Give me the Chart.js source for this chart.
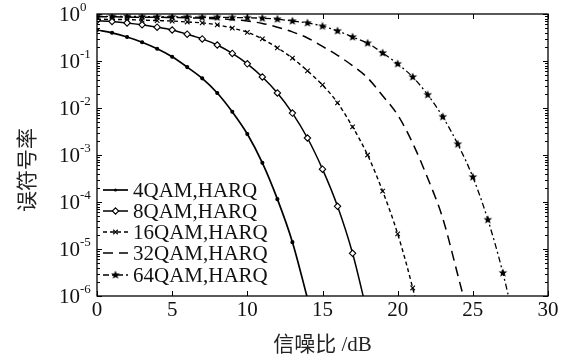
<!DOCTYPE html>
<html>
<head>
<meta charset="utf-8">
<script src="https://cdn.jsdelivr.net/npm/chart.js@4.4.1/dist/chart.umd.min.js"></script>
<style>
  html, body { margin: 0; padding: 0; background: #fff; }
</style>
</head>
<body>
<canvas id="chart" width="575" height="361"></canvas>
<script>
// ---- данные (читаются с рисунка) ----
const snr = [0,1,2,3,4,5,6,7,8,9,10,11,12,13,14,15,16,17,18,19,20,21,22,23,24,25,26,27,28];

const ser4 = [0.457,0.398,0.324,0.251,0.182,0.123,0.0741,0.0427,0.0209,8.3e-3,2.8e-3,6.8e-4,1.15e-4,1.4e-5,8.9e-7];
const ser8 = [0.724,0.692,0.646,0.589,0.525,0.457,0.372,0.295,0.219,0.145,0.0871,0.0457,0.0209,7.8e-3,2.3e-3,5.0e-4,8.1e-5,8.1e-6,4.0e-7];
const ser16 = [0.776,0.767,0.759,0.741,0.724,0.708,0.676,0.646,0.589,0.501,0.407,0.295,0.191,0.115,0.0617,0.0309,0.0129,3.98e-3,1.0e-3,1.7e-4,2.1e-5,1.48e-6,6.3e-8];
const ser32 = [0.871,0.871,0.861,0.851,0.851,0.841,0.832,0.813,0.794,0.759,0.708,0.631,0.525,0.417,0.309,0.204,0.132,0.0794,0.0437,0.0182,7.1e-3,1.78e-3,3.2e-4,4.5e-5,2.8e-6,1.6e-7];
const ser64 = [0.891,0.891,0.891,0.881,0.871,0.871,0.861,0.851,0.851,0.841,0.832,0.813,0.776,0.708,0.646,0.550,0.437,0.324,0.240,0.148,0.0871,0.0457,0.0191,6.5e-3,1.7e-3,3.4e-4,4.2e-5,3.1e-6,1.26e-7];

const seriesNames = ['4QAM,HARQ', '8QAM,HARQ', '16QAM,HARQ', '32QAM,HARQ', '64QAM,HARQ'];

const xTicks = [0, 5, 10, 15, 20, 25, 30];
const yTickValues = [1, 1e-1, 1e-2, 1e-3, 1e-4, 1e-5, 1e-6];
const yTickExps = ['0', '-1', '-2', '-3', '-4', '-5', '-6'];

const FONT = '"Liberation Serif", "Noto Sans CJK SC", serif';

// звёздочка для 64QAM
function makeStar(R, r) {
  const c = document.createElement('canvas');
  const s = Math.ceil(R * 2) + 2;
  c.width = s; c.height = s;
  const g = c.getContext('2d');
  g.beginPath();
  for (let i = 0; i < 10; i++) {
    const rad = i % 2 ? r : R;
    const a = -Math.PI / 2 + i * Math.PI / 5;
    g.lineTo(s / 2 + rad * Math.cos(a), s / 2 + rad * Math.sin(a));
  }
  g.closePath();
  g.fillStyle = '#000';
  g.fill();
  return c;
}
const star = makeStar(4.6, 2.0);

function pts(vals) { return vals.map((v, i) => ({ x: snr[i], y: v })); }

const styles = [
  { dash: [],          width: 1.7, point: 'circle',   radius: 1.5, bg: '#000' },
  { dash: [],          width: 1.5, point: 'rectRot',  radius: 3.2, bg: '#fff' },
  { dash: [4, 3],      width: 1.4, point: 'crossRot', radius: 3.2, bg: '#000' },
  { dash: [10, 6],     width: 1.5, point: false,      radius: 0,   bg: '#000' },
  { dash: [6, 3, 2, 3], width: 1.3, point: star,      radius: 4.6, bg: '#000' },
];

const allSeries = [ser4, ser8, ser16, ser32, ser64];

const datasets = allSeries.map((vals, i) => ({
  label: seriesNames[i],
  data: pts(vals),
  borderColor: '#000',
  backgroundColor: styles[i].bg,
  borderWidth: styles[i].width,
  borderDash: styles[i].dash,
  pointStyle: styles[i].point,
  pointRadius: styles[i].radius,
  pointBorderColor: '#000',
  pointBorderWidth: 1.1,
  pointBackgroundColor: styles[i].bg,
  cubicInterpolationMode: 'monotone',
  fill: false,
}));

// рамка, внутренние риски, подписи оси Y и легенда
const decor = {
  id: 'decor',
  afterDatasetsDraw(chart) {
    const { ctx, chartArea: a, scales: { x, y } } = chart;
    ctx.save();
    ctx.strokeStyle = '#000';
    ctx.lineWidth = 1.3;
    ctx.strokeRect(a.left, a.top, a.right - a.left, a.bottom - a.top);

    ctx.lineWidth = 1;
    ctx.beginPath();
    xTicks.forEach(v => {
      const px = Math.round(x.getPixelForValue(v)) + 0.5;
      ctx.moveTo(px, a.bottom); ctx.lineTo(px, a.bottom - 5);
      ctx.moveTo(px, a.top);    ctx.lineTo(px, a.top + 5);
    });
    yTickValues.forEach((v, i) => {
      const py = Math.round(y.getPixelForValue(v)) + 0.5;
      ctx.moveTo(a.left, py);  ctx.lineTo(a.left + 5, py);
      ctx.moveTo(a.right, py); ctx.lineTo(a.right - 5, py);
      if (i === 0) return;
      for (let k = 2; k <= 9; k++) {
        const pm = Math.round(y.getPixelForValue(v * k)) + 0.5;
        ctx.moveTo(a.left, pm);  ctx.lineTo(a.left + 3, pm);
        ctx.moveTo(a.right, pm); ctx.lineTo(a.right - 3, pm);
      }
    });
    ctx.stroke();

    // 10^n
    ctx.fillStyle = '#111';
    ctx.textAlign = 'left';
    ctx.textBaseline = 'middle';
    yTickValues.forEach((v, i) => {
      const py = y.getPixelForValue(v);
      ctx.font = '21px ' + FONT;
      ctx.fillText('10', 59, py + 1);
      const w = ctx.measureText('10').width;
      ctx.font = '13px ' + FONT;
      ctx.fillText(yTickExps[i], 59 + w, py - 6);
    });

    // заголовок оси Y
    ctx.save();
    ctx.translate(28, 170);
    ctx.rotate(-Math.PI / 2);
    ctx.textAlign = 'center';
    ctx.font = '21px ' + FONT;
    ctx.fillStyle = '#222';
    ctx.fillText('误符号率', 0, 0);
    ctx.restore();

    // легенда
    const rowY = [190, 211, 232, 253, 275];
    seriesNames.forEach((name, i) => {
      const st = styles[i];
      const ly = rowY[i];
      ctx.beginPath();
      ctx.setLineDash(st.dash);
      ctx.lineWidth = st.width;
      ctx.moveTo(103, ly); ctx.lineTo(128, ly);
      ctx.stroke();
      ctx.setLineDash([]);
      drawMarker(ctx, st, 115.5, ly);
      ctx.fillStyle = '#111';
      ctx.font = '21px ' + FONT;
      ctx.textAlign = 'left';
      ctx.fillText(name, 133, ly + 1);
    });
    ctx.restore();
  }
};

function drawMarker(ctx, st, cx, cy) {
  const r = st.radius;
  ctx.lineWidth = 1.1;
  ctx.fillStyle = st.bg;
  if (st.point === 'circle') {
    ctx.beginPath(); ctx.arc(cx, cy, r, 0, Math.PI * 2); ctx.fillStyle = '#000'; ctx.fill();
  } else if (st.point === 'rectRot') {
    ctx.beginPath();
    ctx.moveTo(cx, cy - r); ctx.lineTo(cx + r, cy); ctx.lineTo(cx, cy + r); ctx.lineTo(cx - r, cy);
    ctx.closePath(); ctx.fill(); ctx.stroke();
  } else if (st.point === 'crossRot') {
    const d = r * Math.SQRT1_2;
    ctx.beginPath();
    ctx.moveTo(cx - d, cy - d); ctx.lineTo(cx + d, cy + d);
    ctx.moveTo(cx + d, cy - d); ctx.lineTo(cx - d, cy + d);
    ctx.stroke();
  } else if (st.point === star) {
    ctx.drawImage(star, cx - star.width / 2, cy - star.height / 2);
  }
}

new Chart(document.getElementById('chart'), {
  type: 'line',
  data: { datasets },
  plugins: [decor],
  options: {
    responsive: false,
    animation: false,
    layout: { padding: { top: 14, right: 27, left: 0, bottom: 0 } },
    plugins: { legend: { display: false }, tooltip: { enabled: false } },
    scales: {
      x: {
        type: 'linear', min: 0, max: 30,
        ticks: { stepSize: 5, color: '#111', font: { family: FONT, size: 21 }, padding: 2, maxRotation: 0 },
        grid: { display: false, drawTicks: false },
        border: { display: false },
        title: { display: true, text: '信噪比 /dB', color: '#222', font: { family: FONT, size: 21 }, padding: { top: 0, bottom: 3 } },
        afterFit: s => { s.height = 65; },
      },
      y: {
        type: 'logarithmic', min: 1e-6, max: 1,
        ticks: { display: false },
        grid: { display: false, drawTicks: false },
        border: { display: false },
        afterFit: s => { s.width = 97; },
      },
    },
  },
});
</script>
</body>
</html>
